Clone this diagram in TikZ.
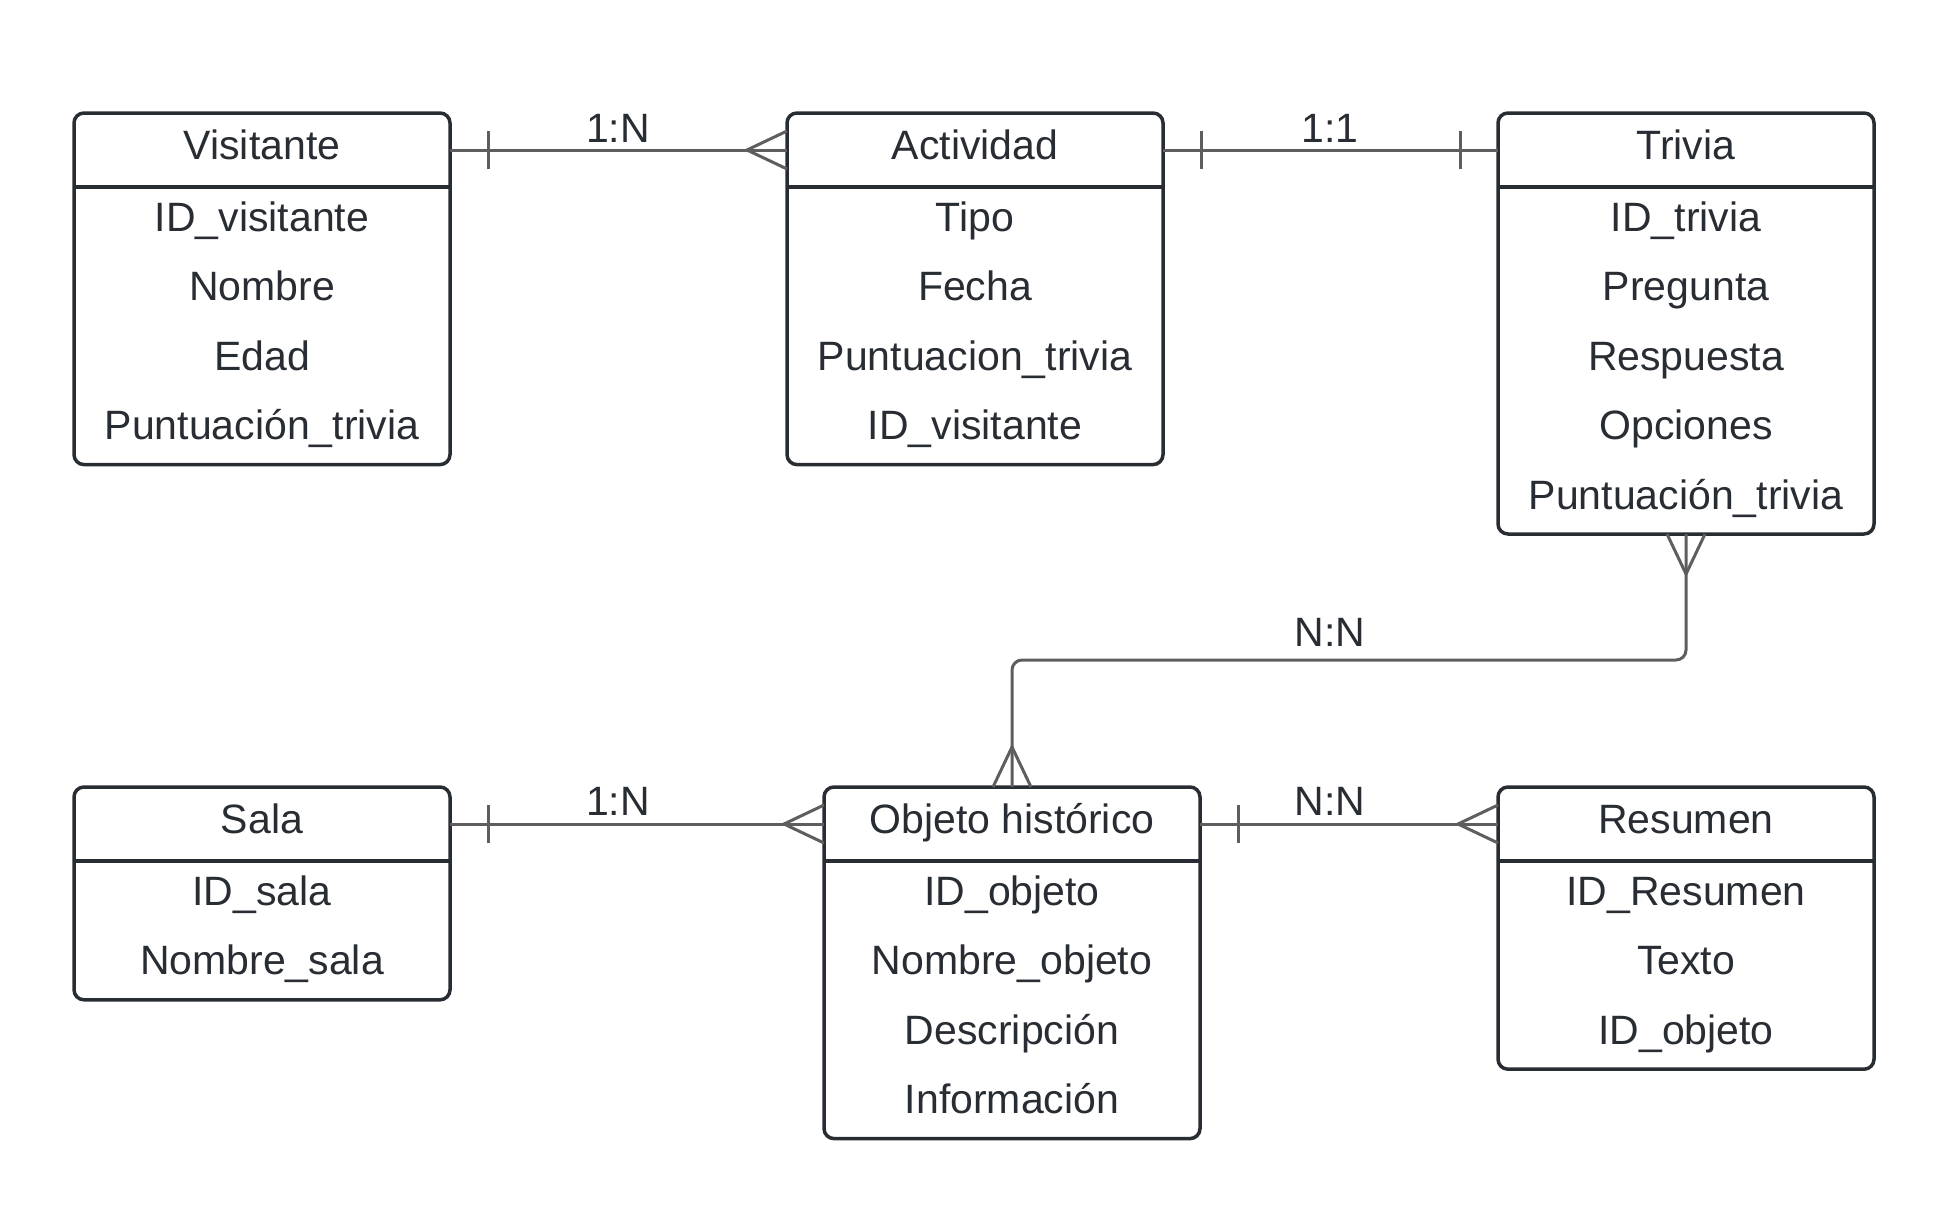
\documentclass[tikz,border=0pt]{standalone}
\usepackage{fontspec}
\setmainfont{Liberation Sans}
\usetikzlibrary{calc}
\definecolor{tinta}{HTML}{282C33}
\definecolor{linea}{HTML}{5E5E5E}

\begin{document}
\begin{tikzpicture}[x=1pt,y=-1pt,
  font=\fontsize{41pt}{49pt}\selectfont,
  caja/.style={draw=tinta,line width=3.5pt,rounded corners=10pt,minimum width=376pt,outer sep=0pt,inner sep=0pt},
  cabeza/.style={minimum width=376pt,minimum height=74pt,outer sep=0pt,inner sep=0pt,text height=29.4pt,text depth=10pt,text=tinta},
  campo/.style={inner sep=0pt,text height=29.4pt,text depth=10pt,text=tinta},
  rel/.style={draw=linea,line width=3pt},
  card/.style={inner sep=0pt,text height=29.4pt,text depth=0pt,text=tinta}]

  \useasboundingbox (0,0) rectangle (1950,1215);

  % Entidad Visitante
  \node[caja,minimum height=351.6pt,anchor=north west] (visitante) at (74,113) {};
  \node[cabeza,anchor=north] (visitanteT) at (visitante.north) {Visitante};
  \draw[tinta,line width=3.5pt] (visitanteT.south west) -- (visitanteT.south east);
  \foreach \c [count=\i] in {ID\_visitante,Nombre,Edad,Puntuación\_trivia}
    \node[campo] (visitante-\i) at ($(visitanteT.south)+(0,34.7+69.4*\i-69.4)$) {\c};

  % Entidad Actividad
  \node[caja,minimum height=351.6pt,anchor=north west] (actividad) at (787,113) {};
  \node[cabeza,anchor=north] (actividadT) at (actividad.north) {Actividad};
  \draw[tinta,line width=3.5pt] (actividadT.south west) -- (actividadT.south east);
  \foreach \c [count=\i] in {Tipo,Fecha,Puntuacion\_trivia,ID\_visitante}
    \node[campo] (actividad-\i) at ($(actividadT.south)+(0,34.7+69.4*\i-69.4)$) {\c};

  % Entidad Trivia
  \node[caja,minimum height=421pt,anchor=north west] (trivia) at (1498,113) {};
  \node[cabeza,anchor=north] (triviaT) at (trivia.north) {Trivia};
  \draw[tinta,line width=3.5pt] (triviaT.south west) -- (triviaT.south east);
  \foreach \c [count=\i] in {ID\_trivia,Pregunta,Respuesta,Opciones,Puntuación\_trivia}
    \node[campo] (trivia-\i) at ($(triviaT.south)+(0,34.7+69.4*\i-69.4)$) {\c};

  % Entidad Sala
  \node[caja,minimum height=212.8pt,anchor=north west] (sala) at (74,787) {};
  \node[cabeza,anchor=north] (salaT) at (sala.north) {Sala};
  \draw[tinta,line width=3.5pt] (salaT.south west) -- (salaT.south east);
  \foreach \c [count=\i] in {ID\_sala,Nombre\_sala}
    \node[campo] (sala-\i) at ($(salaT.south)+(0,34.7+69.4*\i-69.4)$) {\c};

  % Entidad Objeto histórico
  \node[caja,minimum height=351.6pt,anchor=north west] (objeto) at (824,787) {};
  \node[cabeza,anchor=north] (objetoT) at (objeto.north) {Objeto histórico};
  \draw[tinta,line width=3.5pt] (objetoT.south west) -- (objetoT.south east);
  \foreach \c [count=\i] in {ID\_objeto,Nombre\_objeto,Descripción,Información}
    \node[campo] (objeto-\i) at ($(objetoT.south)+(0,34.7+69.4*\i-69.4)$) {\c};

  % Entidad Resumen
  \node[caja,minimum height=282.2pt,anchor=north west] (resumen) at (1498,787) {};
  \node[cabeza,anchor=north] (resumenT) at (resumen.north) {Resumen};
  \draw[tinta,line width=3.5pt] (resumenT.south west) -- (resumenT.south east);
  \foreach \c [count=\i] in {ID\_Resumen,Texto,ID\_objeto}
    \node[campo] (resumen-\i) at ($(resumenT.south)+(0,34.7+69.4*\i-69.4)$) {\c};

  % Visitante 1:N Actividad
  \draw[rel] (visitanteT.east) -- (actividadT.west);
  \draw[rel] ([shift={(38,-19)}]visitanteT.east) -- ++(0,38);
  \draw[rel] ([shift={(0,-19)}]actividadT.west) -- ++(-40,19) -- ++(40,19);
  \node[card] (rel1) at (618,128) {1:N};

  % Actividad 1:1 Trivia
  \draw[rel] (actividadT.east) -- (triviaT.west);
  \draw[rel] ([shift={(38,-19)}]actividadT.east) -- ++(0,38);
  \draw[rel] ([shift={(-38,-19)}]triviaT.west) -- ++(0,38);
  \node[card] (rel2) at (1330,128) {1:1};

  % Trivia N:N Objeto histórico
  \draw[rel,rounded corners=10pt] (trivia.south) -- ++(0,126) -| (objetoT.north);
  \draw[rel] ([shift={(-19,0)}]trivia.south) -- ++(19,40) -- ++(19,-40);
  \draw[rel] ([shift={(-19,0)}]objetoT.north) -- ++(19,-40) -- ++(19,40);
  \node[card] (rel3) at (1330,632) {N:N};

  % Sala 1:N Objeto histórico
  \draw[rel] (salaT.east) -- (objetoT.west);
  \draw[rel] ([shift={(38,-19)}]salaT.east) -- ++(0,38);
  \draw[rel] ([shift={(0,-19)}]objetoT.west) -- ++(-40,19) -- ++(40,19);
  \node[card] (rel4) at (618,801) {1:N};

  % Objeto histórico N:N Resumen
  \draw[rel] (objetoT.east) -- (resumenT.west);
  \draw[rel] ([shift={(38,-19)}]objetoT.east) -- ++(0,38);
  \draw[rel] ([shift={(0,-19)}]resumenT.west) -- ++(-40,19) -- ++(40,19);
  \node[card] (rel5) at (1330,801) {N:N};

\end{tikzpicture}
\end{document}
